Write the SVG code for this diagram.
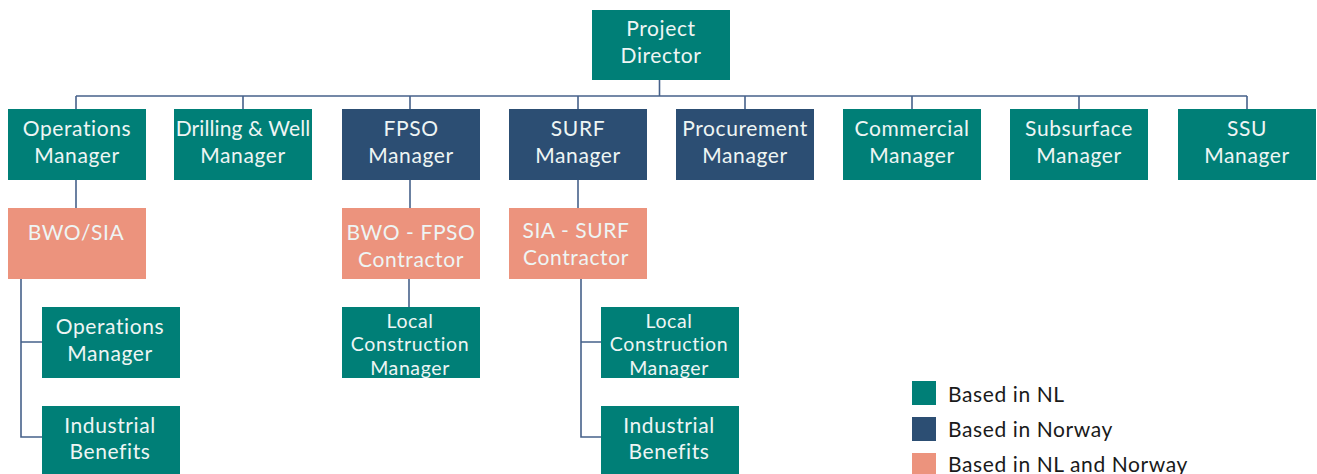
<svg xmlns="http://www.w3.org/2000/svg" width="1317" height="474" viewBox="0 0 1317 474">
  <style>
    .nl { fill: #007f77; }
    .no { fill: #2c4e73; }
    .both { fill: #ec937d; }
    .lbl { font-family: "Lato", "Noto Sans", sans-serif; font-size: 21px; letter-spacing: 0.6px; fill: #eef5f4; text-anchor: middle; }
    .tight { font-size: 19.5px; }
    .leg { font-family: "Lato", "Noto Sans", sans-serif; font-size: 21px; letter-spacing: 0.6px; fill: #1a1a1a; }
    .wire { fill: none; stroke: #46618a; stroke-width: 1.6; }
  </style>
  <rect width="1317" height="474" fill="#ffffff"/>

  <!-- reporting lines -->
  <g id="connectors" class="wire">
    <path d="M659.5 80 V96"/>
    <path d="M76 96 H1247"/>
    <path d="M76 96 V109 M243 96 V109 M410 96 V109 M578 96 V109 M745 96 V109 M912 96 V109 M1079 96 V109 M1247 96 V109"/>
    <path d="M76 180 V208"/>
    <path d="M410 180 V208"/>
    <path d="M578 180 V208"/>
    <path d="M21 279 V437 H42 M21 342 H42"/>
    <path d="M409 279 V307"/>
    <path d="M581 279 V437 H601 M581 342 H601"/>
  </g>

  <g id="project-director">
    <rect class="nl" x="592" y="10" width="138" height="70"/>
    <text class="lbl" x="661" y="36">Project</text>
    <text class="lbl" x="661" y="63">Director</text>
  </g>

  <g id="operations-manager">
    <rect class="nl" x="8" y="109" width="138" height="71"/>
    <text class="lbl" x="77" y="136">Operations</text>
    <text class="lbl" x="77" y="163">Manager</text>
  </g>
  <g id="drilling-well-manager">
    <rect class="nl" x="174" y="109" width="138" height="71"/>
    <text class="lbl" x="243" y="136" style="letter-spacing:0.1px">Drilling &amp; Well</text>
    <text class="lbl" x="243" y="163">Manager</text>
  </g>
  <g id="fpso-manager">
    <rect class="no" x="342" y="109" width="138" height="71"/>
    <text class="lbl" x="411" y="136">FPSO</text>
    <text class="lbl" x="411" y="163">Manager</text>
  </g>
  <g id="surf-manager">
    <rect class="no" x="509" y="109" width="138" height="71"/>
    <text class="lbl" x="578" y="136">SURF</text>
    <text class="lbl" x="578" y="163">Manager</text>
  </g>
  <g id="procurement-manager">
    <rect class="no" x="676" y="109" width="138" height="71"/>
    <text class="lbl" x="745" y="136">Procurement</text>
    <text class="lbl" x="745" y="163">Manager</text>
  </g>
  <g id="commercial-manager">
    <rect class="nl" x="843" y="109" width="138" height="71"/>
    <text class="lbl" x="912" y="136">Commercial</text>
    <text class="lbl" x="912" y="163">Manager</text>
  </g>
  <g id="subsurface-manager">
    <rect class="nl" x="1010" y="109" width="138" height="71"/>
    <text class="lbl" x="1079" y="136">Subsurface</text>
    <text class="lbl" x="1079" y="163">Manager</text>
  </g>
  <g id="ssu-manager">
    <rect class="nl" x="1178" y="109" width="138" height="71"/>
    <text class="lbl" x="1247" y="136">SSU</text>
    <text class="lbl" x="1247" y="163">Manager</text>
  </g>

  <g id="bwo-sia">
    <rect class="both" x="8" y="208" width="138" height="71"/>
    <text class="lbl" x="76" y="240">BWO/SIA</text>
  </g>
  <g id="bwo-fpso-contractor">
    <rect class="both" x="342" y="208" width="138" height="71"/>
    <text class="lbl" x="411" y="240">BWO - FPSO</text>
    <text class="lbl" x="411" y="267">Contractor</text>
  </g>
  <g id="sia-surf-contractor">
    <rect class="both" x="509" y="208" width="138" height="71"/>
    <text class="lbl" x="576" y="238">SIA - SURF</text>
    <text class="lbl" x="576" y="265">Contractor</text>
  </g>

  <g id="sub-operations-manager">
    <rect class="nl" x="42" y="307" width="138" height="71"/>
    <text class="lbl" x="110" y="334">Operations</text>
    <text class="lbl" x="110" y="361">Manager</text>
  </g>
  <g id="fpso-local-construction-manager">
    <rect class="nl" x="342" y="307" width="138" height="71"/>
    <text class="lbl tight" x="410" y="327.5">Local</text>
    <text class="lbl tight" x="410" y="351">Construction</text>
    <text class="lbl tight" x="410" y="374.5">Manager</text>
  </g>
  <g id="surf-local-construction-manager">
    <rect class="nl" x="601" y="307" width="138" height="71"/>
    <text class="lbl tight" x="669" y="327.5">Local</text>
    <text class="lbl tight" x="669" y="351">Construction</text>
    <text class="lbl tight" x="669" y="374.5">Manager</text>
  </g>

  <g id="bwo-industrial-benefits">
    <rect class="nl" x="42" y="406" width="138" height="68"/>
    <text class="lbl" x="110" y="433">Industrial</text>
    <text class="lbl" x="110" y="459">Benefits</text>
  </g>
  <g id="surf-industrial-benefits">
    <rect class="nl" x="601" y="406" width="138" height="68"/>
    <text class="lbl" x="669" y="433">Industrial</text>
    <text class="lbl" x="669" y="459">Benefits</text>
  </g>

  <g id="legend">
    <rect class="nl" x="912" y="381" width="24" height="24"/>
    <text class="leg" x="948" y="402">Based in NL</text>
    <rect class="no" x="912" y="417" width="24" height="24"/>
    <text class="leg" x="948" y="437">Based in Norway</text>
    <rect class="both" x="912" y="453" width="24" height="21"/>
    <text class="leg" x="948" y="472">Based in NL and Norway</text>
  </g>
</svg>
